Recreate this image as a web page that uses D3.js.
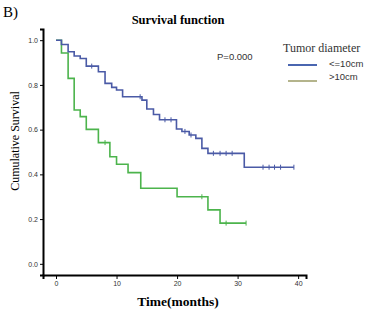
<!DOCTYPE html>
<html>
<head>
<meta charset="utf-8">
<script src="https://cdn.jsdelivr.net/npm/d3@7"></script>
<style>
  body { margin: 0; background: #fff; }
  svg { display: block; }
  .axis path { stroke: #000; stroke-width: 2; }
  .axis line { stroke: #000; }
  .axis text { font-family: "Liberation Sans", Arial, sans-serif; font-size: 7px; fill: #333; }
</style>
</head>
<body>
<div id="chart"></div>
<script>
// step points [time, survival]
var smallTimes = [0, 0.9, 2.0, 3.0, 4.0, 5.0, 7.0, 8.1, 9.2, 10.0, 11.0, 14.2, 15.0, 16.1, 17.1, 19.9, 20.8, 22.0, 23.1, 24.1, 25.1, 31.1, 39.3];
var smallSurv  = [1.0, 0.981, 0.948, 0.929, 0.918, 0.884, 0.859, 0.807, 0.789, 0.777, 0.747, 0.732, 0.692, 0.668, 0.644, 0.603, 0.592, 0.576, 0.561, 0.516, 0.494, 0.432, 0.432];
var smallCensor = [5.9, 13.9, 18.0, 19.0, 21.3, 22.3, 26.0, 27.1, 28.1, 29.1, 34.2, 35.2, 36.1, 37.1, 39.3];

var largeTimes = [0, 0.9, 2.0, 3.0, 4.0, 5.0, 7.0, 8.9, 10.0, 11.9, 14.0, 20.0, 25.1, 27.1, 31.4];
var largeSurv  = [1.0, 0.943, 0.829, 0.688, 0.658, 0.601, 0.542, 0.479, 0.445, 0.408, 0.338, 0.300, 0.241, 0.182, 0.182];
var largeCensor = [8.1, 24.1, 28.1, 31.4];

var xTicks = [0, 10, 20, 30, 40];
var yTicks = [0.0, 0.2, 0.4, 0.6, 0.8, 1.0];
var groups = ["<=10cm", ">10cm"];

var w = 369, h = 315;

var svg = d3.select("#chart").append("svg")
  .attr("width", w)
  .attr("height", h);

var xScale = d3.scaleLinear().domain([-2.15, 41.3]).range([43, 306]);
var yScale = d3.scaleLinear().domain([-0.05, 1.05]).range([275, 29]);

var xAxis = d3.axisBottom(xScale).tickValues(xTicks).tickFormat(d3.format("d")).tickSizeOuter(0).tickSize(4).tickPadding(2);
var yAxis = d3.axisLeft(yScale).tickValues(yTicks).tickFormat(d3.format(".1f")).tickSizeOuter(0).tickSize(3).tickPadding(2);

svg.append("g")
  .attr("class", "x axis")
  .attr("transform", "translate(0,275)")
  .call(xAxis);

svg.append("g")
  .attr("class", "y axis")
  .attr("transform", "translate(43,0)")
  .call(yAxis);

var line = d3.line()
  .curve(d3.curveStepAfter)
  .x(function(d) { return xScale(d[0]); })
  .y(function(d) { return yScale(d[1]); });

// survival at time t (step function)
function survAt(times, surv, t) {
  var s = surv[0];
  for (var i = 0; i < times.length; i++) {
    if (times[i] <= t) s = surv[i];
  }
  return s;
}

function drawCurve(times, surv, censor, color) {
  var pts = times.map(function(t, i) { return [t, surv[i]]; });
  svg.append("path")
    .datum(pts)
    .attr("fill", "none")
    .attr("stroke", color)
    .attr("stroke-width", 1.6)
    .attr("d", line);

  svg.selectAll(null)
    .data(censor)
    .enter().append("line")
    .attr("x1", function(d) { return xScale(d); })
    .attr("x2", function(d) { return xScale(d); })
    .attr("y1", function(d) { return yScale(survAt(times, surv, d)) - 2.5; })
    .attr("y2", function(d) { return yScale(survAt(times, surv, d)) + 2.5; })
    .attr("stroke", color)
    .attr("stroke-width", 1);
}

drawCurve(largeTimes, largeSurv, largeCensor, "#4cb44c");
drawCurve(smallTimes, smallSurv, smallCensor, "#4a5aa6");

// texts
svg.append("text")
  .attr("x", 3).attr("y", 17)
  .attr("font-family", "Liberation Serif, serif")
  .attr("font-size", 15)
  .text("B)");

svg.append("text")
  .attr("x", 178).attr("y", 24)
  .attr("text-anchor", "middle")
  .attr("font-family", "Liberation Serif, serif")
  .attr("font-weight", "bold")
  .attr("font-size", 12.5)
  .text("Survival function");

svg.append("text")
  .attr("transform", "translate(19,141) rotate(-90)")
  .attr("text-anchor", "middle")
  .attr("font-family", "Liberation Serif, serif")
  .attr("font-size", 12)
  .text("Cumulative  Survival");

svg.append("text")
  .attr("x", 178).attr("y", 306)
  .attr("text-anchor", "middle")
  .attr("font-family", "Liberation Serif, serif")
  .attr("font-weight", "bold")
  .attr("font-size", 13.5)
  .text("Time(months)");

svg.append("text")
  .attr("x", 217).attr("y", 60)
  .attr("font-family", "Liberation Sans, Arial, sans-serif")
  .attr("font-size", 9.5)
  .attr("fill", "#333")
  .text("P=0.000");

// legend
svg.append("text")
  .attr("x", 283).attr("y", 52)
  .attr("font-family", "Liberation Serif, serif")
  .attr("font-size", 12)
  .attr("fill", "#333")
  .text("Tumor diameter");

var legendColors = ["#4a66b0", "#b4b48c"];
var legend = svg.selectAll(".legend")
  .data(groups)
  .enter().append("g")
  .attr("class", "legend")
  .attr("transform", function(d, i) { return "translate(288," + (65 + i * 16) + ")"; });

legend.append("line")
  .attr("x1", 0).attr("x2", 29)
  .attr("stroke", function(d, i) { return legendColors[i]; })
  .attr("stroke-width", 2);

legend.append("text")
  .attr("x", 41).attr("y", function(d, i) { return 1.5 - i * 3; })
  .attr("font-family", "Liberation Sans, Arial, sans-serif")
  .attr("font-size", 9.5)
  .attr("fill", "#333")
  .text(function(d) { return d; });
</script>
</body>
</html>
